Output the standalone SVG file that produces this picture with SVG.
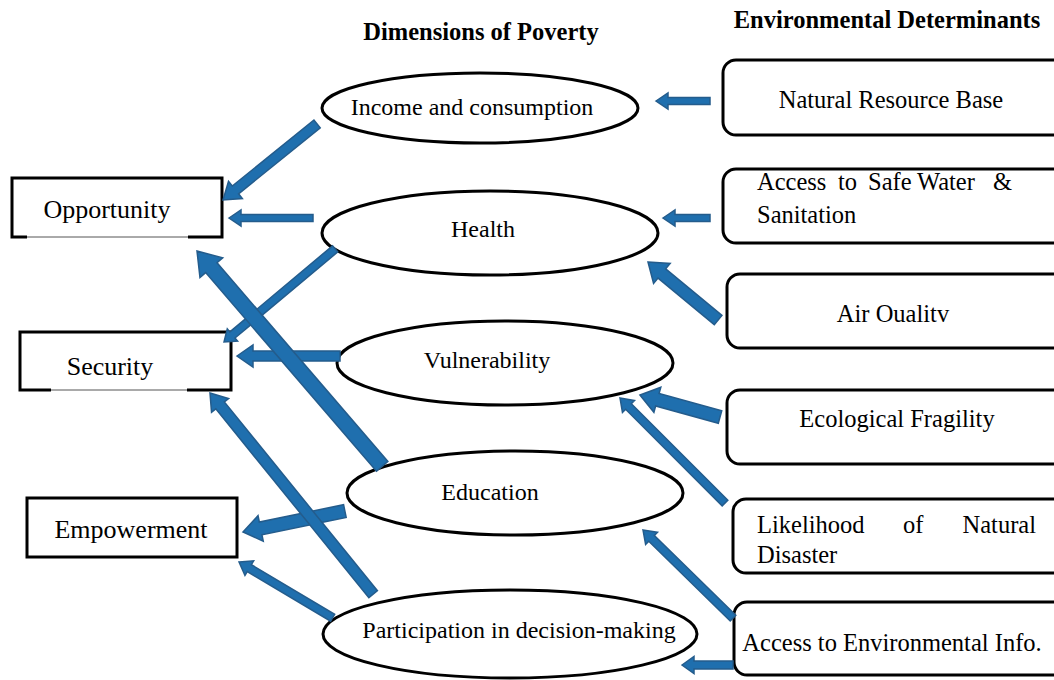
<svg xmlns="http://www.w3.org/2000/svg" width="1054" height="680" viewBox="0 0 1054 680">
<style>
text{font-family:"Liberation Serif","Times New Roman",serif;fill:#000}
.t{font-weight:bold;font-size:24.5px;text-anchor:middle}
.e{font-size:24px;text-anchor:middle}
.l{font-size:26px;text-anchor:middle}
.r{font-size:24.5px}
.rc{font-size:24.5px;text-anchor:middle}
.ell{fill:#fff;stroke:#000;stroke-width:3}
.box{fill:#fff;stroke:#000;stroke-width:3}
.rbox{fill:#fff;stroke:#000;stroke-width:3}
.arr{fill:#1f6fae;stroke:#245c8c;stroke-width:1.5;stroke-linejoin:miter}
</style>
<rect width="1054" height="680" fill="#fff"/>
<text class="t" x="481" y="40">Dimensions of Poverty</text>
<text class="t" x="887" y="28">Environmental Determinants</text>

<g id="n-opportunity">
<path class="box" d="M27,237 H12 V178 H222 V237 H188" fill="none"/>
<line x1="27" y1="237" x2="188" y2="237" stroke="#555" stroke-width="1"/>
<text class="l" x="107" y="218">Opportunity</text>
</g>
<g id="n-security">
<path class="box" d="M51,390 H20 V332 H231 V390 H187"/>
<line x1="51" y1="390" x2="187" y2="390" stroke="#555" stroke-width="1"/>
<text class="l" x="110" y="375">Security</text>
</g>
<g id="n-empowerment">
<rect class="box" x="27" y="498" width="210" height="59"/>
<text class="l" x="131" y="538">Empowerment</text>
</g>

<g id="n-income">
<ellipse class="ell" cx="480" cy="108" rx="158" ry="35"/>
<text class="e" x="472" y="115">Income and consumption</text>
</g>
<g id="n-health">
<ellipse class="ell" cx="490" cy="233" rx="168" ry="42"/>
<text class="e" x="483" y="237">Health</text>
</g>
<g id="n-vulnerability">
<ellipse class="ell" cx="505" cy="363" rx="168" ry="42"/>
<text class="e" x="487" y="368">Vulnerability</text>
</g>
<g id="n-education">
<ellipse class="ell" cx="515" cy="493" rx="168" ry="42"/>
<text class="e" x="490" y="500">Education</text>
</g>
<g id="n-participation">
<ellipse class="ell" cx="510" cy="634" rx="187" ry="44"/>
<text class="e" x="519" y="638">Participation in decision-making</text>
</g>

<g id="n-natural">
<rect class="rbox" x="723" y="60" width="345" height="75" rx="13"/>
<text class="rc" x="891" y="108">Natural Resource Base</text>
</g>
<g id="n-water">
<rect class="rbox" x="723" y="169" width="345" height="74" rx="13"/>
<text class="r" x="757" y="190">Access</text>
<text class="r" x="838" y="190">to</text>
<text class="r" x="868" y="190">Safe</text>
<text class="r" x="917" y="190">Water</text>
<text class="r" x="1012" y="190" text-anchor="end">&amp;</text>
<text class="r" x="757" y="223">Sanitation</text>
</g>
<g id="n-air">
<rect class="rbox" x="727" y="274" width="345" height="74" rx="13"/>
<text class="rc" x="893" y="322">Air Oualitv</text>
</g>
<g id="n-eco">
<rect class="rbox" x="727" y="390" width="345" height="74" rx="13"/>
<text class="rc" x="897" y="427">Ecological Fragility</text>
</g>
<g id="n-likelihood">
<rect class="rbox" x="733" y="499" width="345" height="74" rx="13"/>
<text class="r" x="757" y="533">Likelihood</text>
<text class="r" x="903" y="533">of</text>
<text class="r" x="1036" y="533" text-anchor="end">Natural</text>
<text class="r" x="757" y="563">Disaster</text>
</g>
<g id="n-info">
<rect class="rbox" x="734" y="602" width="345" height="73" rx="13"/>
<text class="rc" x="892" y="651">Access to Environmental Info.</text>
</g>

<g id="connectors">
<polygon class="arr" points="0,0 12,-8 12,-3.5 54,-3.5 54,3.5 12,3.5 12,8" transform="translate(656,101)"/>
<polygon class="arr" points="0,0 12,-8 12,-3.5 47,-3.5 47,3.5 12,3.5 12,8" transform="translate(663,218)"/>
<polygon class="arr" points="0,0 18,-13 18,-6 91,-6 91,6 18,6 18,13" transform="translate(648,262) rotate(39.6)"/>
<polygon class="arr" points="0,0 18,-13 18,-6.5 83,-6.5 83,6.5 18,6.5 18,13" transform="translate(640,395) rotate(15.4)"/>
<polygon class="arr" points="0,0 12,-8.5 12,-4 148.5,-4 148.5,4 12,4 12,8.5" transform="translate(620,398) rotate(45)"/>
<polygon class="arr" points="0,0 12,-8.5 12,-4 126,-4 126,4 12,4 12,8.5" transform="translate(643,530) rotate(44.4)"/>
<polygon class="arr" points="0,0 12,-8.5 12,-4 51,-4 51,4 12,4 12,8.5" transform="translate(682,665)"/>
<polygon class="arr" points="0,0 16,-11 16,-5 121,-5 121,5 16,5 16,11" transform="translate(223,200) rotate(-38.96)"/>
<polygon class="arr" points="0,0 12,-8 12,-3.5 84,-3.5 84,3.5 12,3.5 12,8" transform="translate(229,218)"/>
<polygon class="arr" points="0,0 11,-8 11,-4 145,-4 145,4 11,4 11,8" transform="translate(224,342) rotate(-39.96)"/>
<polygon class="arr" points="0,0 16,-11 16,-5 103,-5 103,5 16,5 16,11" transform="translate(237,356)"/>
<polygon class="arr" points="0,0 22,-15 22,-7.5 284,-7.5 284,7.5 22,7.5 22,15" transform="translate(197,251) rotate(49.3)"/>
<polygon class="arr" points="0,0 18,-13 18,-6.5 104,-6.5 104,6.5 18,6.5 18,13" transform="translate(243,532) rotate(-11.6)"/>
<polygon class="arr" points="0,0 16,-11 16,-5.5 259,-5.5 259,5.5 16,5.5 16,11" transform="translate(210,393) rotate(50.96)"/>
<polygon class="arr" points="0,0 12,-8.5 12,-4 109,-4 109,4 12,4 12,8.5" transform="translate(239,562) rotate(30.8)"/>
</g>
</svg>
